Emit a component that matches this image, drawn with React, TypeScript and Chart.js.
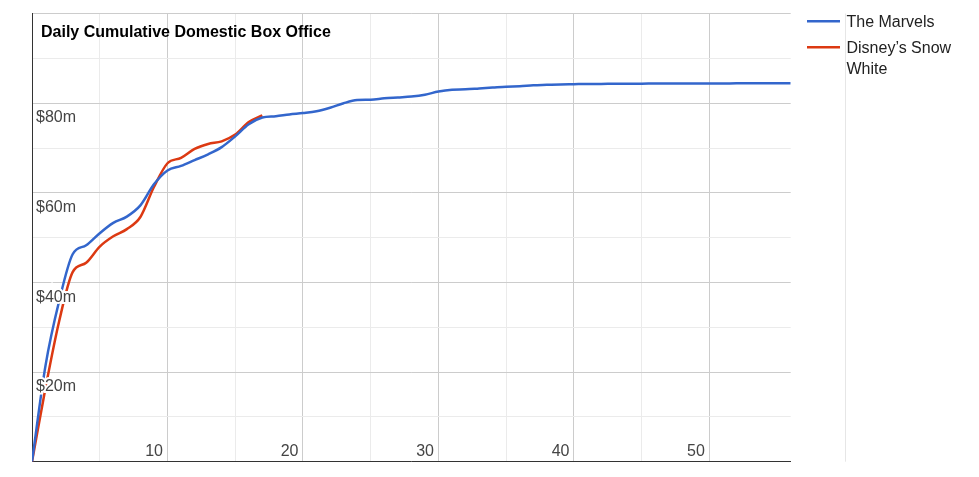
import React, { useEffect, useRef } from 'react';
import { Chart, registerables } from 'chart.js';

Chart.register(...registerables);

const FONT = "Arial, 'Liberation Sans', sans-serif";

const chartTitle = 'Daily Cumulative Domestic Box Office';
const seriesNames = ['The Marvels', 'Disney\u2019s Snow White'];
const seriesColors = ['#3366cc', '#dc3912'];

const marvelsDays = [
  0, 1, 2, 3, 4, 5, 6, 7, 8, 9, 10, 11, 12, 13, 14, 15, 16, 17, 18, 19, 20,
  21, 22, 23, 24, 25, 26, 27, 28, 29, 30, 31, 32, 33, 34, 35, 36, 37, 38, 39, 40,
  41, 42, 43, 44, 45, 46, 47, 48, 49, 50, 51, 52, 53, 54, 55, 56,
];
const marvelsValues = [
  0, 21.5, 35.8, 46.3, 48.3, 51.0, 53.3, 54.7, 57.2, 61.9, 65.0,
  66.0, 67.3, 68.6, 70.2, 72.6, 75.3, 76.8, 77.1, 77.5, 77.8,
  78.2, 79.0, 80.0, 80.7, 80.8, 81.1, 81.3, 81.5, 81.9, 82.6,
  83.0, 83.1, 83.3, 83.5, 83.7, 83.8, 84.0, 84.1, 84.2, 84.25,
  84.3, 84.3, 84.35, 84.35, 84.35, 84.4, 84.4, 84.4, 84.4, 84.4,
  84.4, 84.45, 84.45, 84.45, 84.45, 84.45,
];

const snowDays = [0, 1, 2, 3, 4, 5, 6, 7, 8, 9, 10, 11, 12, 13, 14, 15, 16, 17];
const snowValues = [
  0, 16.5, 31.3, 42.3, 44.4, 48.0, 50.3, 51.9, 54.6, 61.3, 66.6,
  67.8, 69.8, 70.9, 71.5, 73.0, 75.8, 77.3,
];

const yLabelValues = [20, 40, 60, 80];
const xLabelValues = [10, 20, 30, 40, 50];

const overlayPlugin = {
  id: 'overlay',
  beforeDatasetsDraw(chart: any) {
    const { ctx, chartArea, scales } = chart;
    const x60 = Math.round(scales.x.getPixelForValue(60)) + 0.5;
    ctx.save();
    ctx.strokeStyle = '#e6e6e6';
    ctx.lineWidth = 1;
    ctx.beginPath();
    ctx.moveTo(x60, chartArea.top);
    ctx.lineTo(x60, chartArea.bottom);
    ctx.stroke();
    ctx.restore();
  },
  afterDraw(chart: any) {
    const { ctx } = chart;
    ctx.save();
    ctx.fillStyle = '#000';
    ctx.font = `bold 16px ${FONT}`;
    ctx.textBaseline = 'alphabetic';
    ctx.textAlign = 'left';
    ctx.fillText(chartTitle, 41, 37);

    // legend
    ctx.font = `16px ${FONT}`;
    ctx.fillStyle = '#222';
    const rows = [
      { lineY: 21.3, lines: [seriesNames[0]], base: 27.3 },
      { lineY: 47.3, lines: ['Disney\u2019s Snow', 'White'], base: 53.3 },
    ];
    rows.forEach((r, i) => {
      ctx.strokeStyle = seriesColors[i];
      ctx.lineWidth = 2.5;
      ctx.beginPath();
      ctx.moveTo(807, r.lineY);
      ctx.lineTo(840, r.lineY);
      ctx.stroke();
      r.lines.forEach((t, j) => {
        ctx.fillText(t, 846.5, r.base + j * 20.7);
      });
    });
    ctx.restore();
  },
};

export default function App() {
  const ref = useRef<HTMLCanvasElement>(null);
  useEffect(() => {
    if (!ref.current) return;
    const chart = new Chart(ref.current, {
      type: 'line',
      data: {
        datasets: [
          {
            label: seriesNames[0],
            data: marvelsDays.map((d, i) => ({ x: d, y: marvelsValues[i] })),
            borderColor: seriesColors[0],
            backgroundColor: seriesColors[0],
            borderWidth: 2.5,
            pointRadius: 0,
            cubicInterpolationMode: 'monotone',
            fill: false,
          },
          {
            label: seriesNames[1],
            data: snowDays.map((d, i) => ({ x: d, y: snowValues[i] })),
            borderColor: seriesColors[1],
            backgroundColor: seriesColors[1],
            borderWidth: 2.5,
            pointRadius: 0,
            cubicInterpolationMode: 'monotone',
            fill: false,
          },
        ],
      },
      options: {
        animation: false,
        responsive: false,
        layout: { padding: { left: 32, top: 13.3, right: 188.3, bottom: 15.3 } },
        plugins: { legend: { display: false }, tooltip: { enabled: false }, title: { display: false } },
        scales: {
          x: {
            type: 'linear',
            min: 0,
            max: 56,
            afterFit: (s: any) => { s.height = 0; },
            grid: {
              drawTicks: false,
              color: (c: any) => {
                const v = c.tick.value;
                if (v % 5 !== 0 || v === 0) return 'rgba(0,0,0,0)';
                return v % 10 === 0 ? '#cccccc' : '#ebebeb';
              },
            },
            border: { display: true, color: '#333333', width: 1 },
            ticks: {
              z: 1,
              stepSize: 5,
              mirror: true,
              align: 'end',
              labelOffset: -4.5,
              padding: 0.5,
              color: '#444444',
              textStrokeColor: '#ffffff',
              textStrokeWidth: 4,
              font: { family: FONT, size: 16 },
              autoSkip: false,
              maxRotation: 0,
              callback: (v: any) => (xLabelValues.includes(v) ? String(v) : ''),
            },
          },
          y: {
            type: 'linear',
            min: 0,
            max: 100,
            afterFit: (s: any) => { s.width = 0; },
            grid: {
              drawTicks: false,
              color: (c: any) => (c.tick.value % 20 === 0 ? '#cccccc' : '#ebebeb'),
            },
            border: { display: true, color: '#333333', width: 1 },
            ticks: {
              z: 1,
              stepSize: 10,
              mirror: true,
              labelOffset: 14.8,
              padding: 4,
              color: '#444444',
              textStrokeColor: '#ffffff',
              textStrokeWidth: 4,
              font: { family: FONT, size: 16 },
              callback: (v: any) => (yLabelValues.includes(v) ? `$${v}m` : ''),
            },
          },
        },
      },
      plugins: [overlayPlugin],
    } as any);
    return () => chart.destroy();
  }, []);
  return (
    <div style={{ position: 'absolute', left: 0, top: 0, width: 979, height: 477, background: '#fff' }}>
      <canvas ref={ref} width={979} height={477} style={{ display: 'block' }} />
    </div>
  );
}
